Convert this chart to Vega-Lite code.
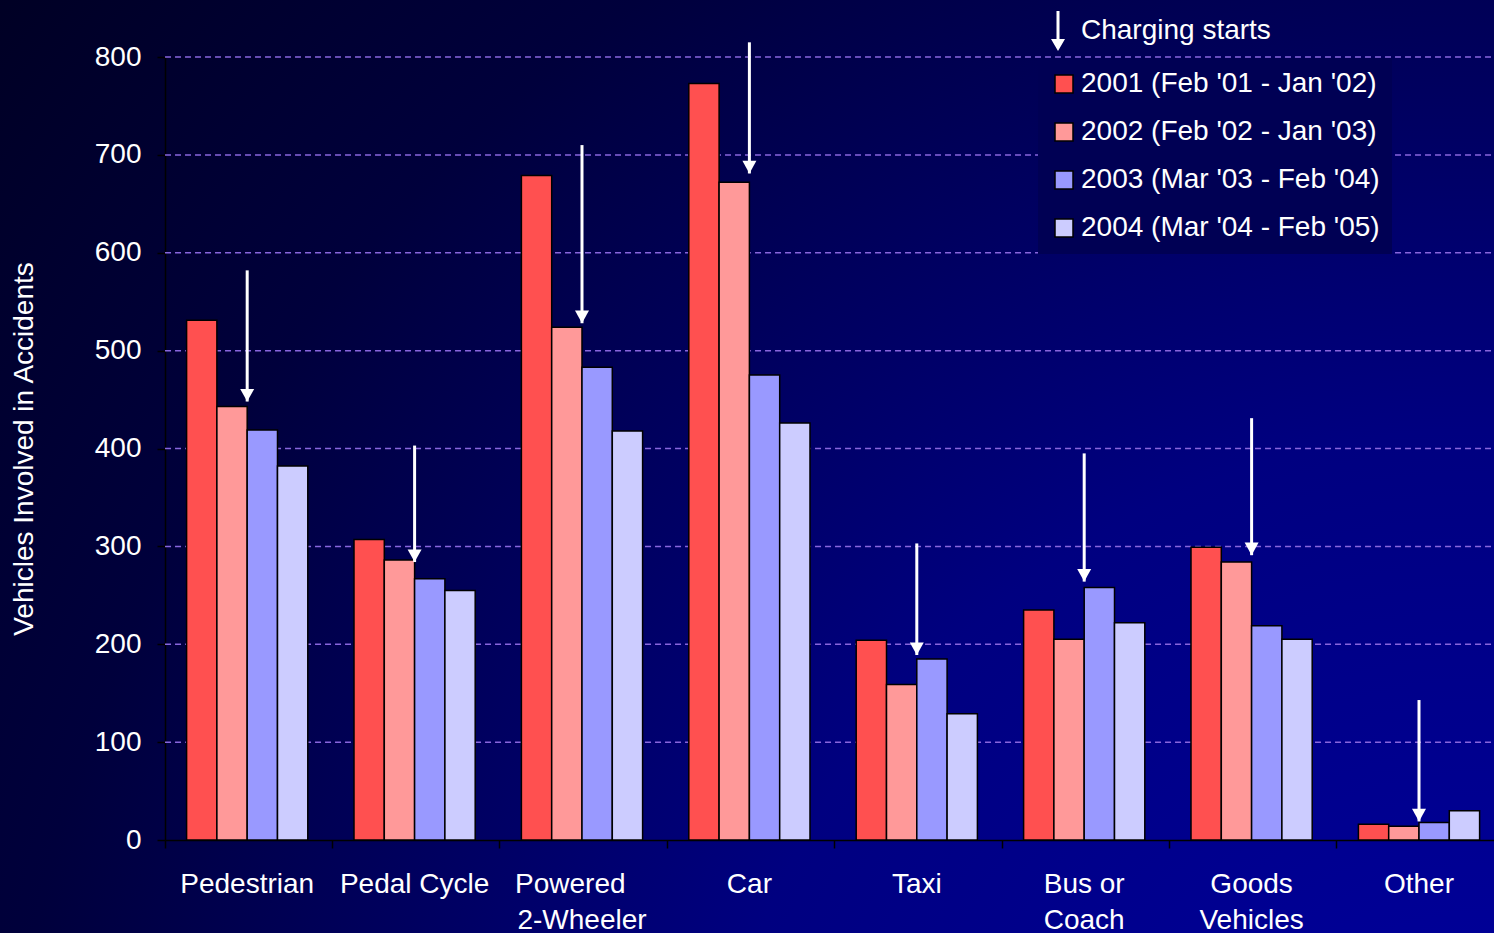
{
  "$schema": "https://vega.github.io/schema/vega-lite/v6.json",
  "width": 1494,
  "height": 933,
  "autosize": {"type": "none"},
  "padding": 0,
  "background": "#00001e",
  "config": {
    "font": "Liberation Sans",
    "view": {
      "stroke": null,
      "fill": {
        "gradient": "radial",
        "x1": 1, "y1": 1, "r1": 0,
        "x2": 1, "y2": 1, "r2": 1.42,
        "stops": [
          {"offset": 0, "color": "#0000a2"},
          {"offset": 0.37, "color": "#000080"},
          {"offset": 0.7, "color": "#00003c"},
          {"offset": 1, "color": "#00001a"}
        ]
      }
    },
    "axis": {
      "labelFont": "Liberation Sans",
      "labelFontSize": 28,
      "labelColor": "white",
      "domainColor": "black",
      "domainWidth": 1.5,
      "tickColor": "black",
      "tickSize": 8,
      "tickWidth": 1.5,
      "titleFont": "Liberation Sans",
      "titleFontSize": 28,
      "titleFontWeight": "normal",
      "titleColor": "white",
      "grid": false
    },
    "axisX": {
      "offset": -93,
      "labelAngle": 0,
      "bandPosition": -0.178,
      "labelPadding": 22,
      "labelLineHeight": 36,
      "labelOverlap": false,
      "labelExpr": "split(datum.label, '|')"
    },
    "axisY": {
      "offset": -165,
      "labelPadding": 16,
      "titlePadding": 56
    },
    "legend": {
      "labelFont": "Liberation Sans",
      "labelFontSize": 28,
      "labelColor": "white",
      "labelLimit": 600
    }
  },
  "datasets": {
    "bars": [
      {"category": "Pedestrian", "year": "2001 (Feb '01 - Jan '02)", "value": 531},
      {"category": "Pedestrian", "year": "2002 (Feb '02 - Jan '03)", "value": 443},
      {"category": "Pedestrian", "year": "2003 (Mar '03 - Feb '04)", "value": 419},
      {"category": "Pedestrian", "year": "2004 (Mar '04 - Feb '05)", "value": 382},
      {"category": "Pedal Cycle", "year": "2001 (Feb '01 - Jan '02)", "value": 307},
      {"category": "Pedal Cycle", "year": "2002 (Feb '02 - Jan '03)", "value": 286},
      {"category": "Pedal Cycle", "year": "2003 (Mar '03 - Feb '04)", "value": 267},
      {"category": "Pedal Cycle", "year": "2004 (Mar '04 - Feb '05)", "value": 255},
      {"category": "Powered\u00a0\u00a0\u00a0\u200b|2-Wheeler", "year": "2001 (Feb '01 - Jan '02)", "value": 679},
      {"category": "Powered\u00a0\u00a0\u00a0\u200b|2-Wheeler", "year": "2002 (Feb '02 - Jan '03)", "value": 524},
      {"category": "Powered\u00a0\u00a0\u00a0\u200b|2-Wheeler", "year": "2003 (Mar '03 - Feb '04)", "value": 483},
      {"category": "Powered\u00a0\u00a0\u00a0\u200b|2-Wheeler", "year": "2004 (Mar '04 - Feb '05)", "value": 418},
      {"category": "Car", "year": "2001 (Feb '01 - Jan '02)", "value": 773},
      {"category": "Car", "year": "2002 (Feb '02 - Jan '03)", "value": 672},
      {"category": "Car", "year": "2003 (Mar '03 - Feb '04)", "value": 475},
      {"category": "Car", "year": "2004 (Mar '04 - Feb '05)", "value": 426},
      {"category": "Taxi", "year": "2001 (Feb '01 - Jan '02)", "value": 204},
      {"category": "Taxi", "year": "2002 (Feb '02 - Jan '03)", "value": 159},
      {"category": "Taxi", "year": "2003 (Mar '03 - Feb '04)", "value": 185},
      {"category": "Taxi", "year": "2004 (Mar '04 - Feb '05)", "value": 129},
      {"category": "Bus or|Coach", "year": "2001 (Feb '01 - Jan '02)", "value": 235},
      {"category": "Bus or|Coach", "year": "2002 (Feb '02 - Jan '03)", "value": 205},
      {"category": "Bus or|Coach", "year": "2003 (Mar '03 - Feb '04)", "value": 258},
      {"category": "Bus or|Coach", "year": "2004 (Mar '04 - Feb '05)", "value": 222},
      {"category": "Goods|Vehicles", "year": "2001 (Feb '01 - Jan '02)", "value": 299},
      {"category": "Goods|Vehicles", "year": "2002 (Feb '02 - Jan '03)", "value": 284},
      {"category": "Goods|Vehicles", "year": "2003 (Mar '03 - Feb '04)", "value": 219},
      {"category": "Goods|Vehicles", "year": "2004 (Mar '04 - Feb '05)", "value": 205},
      {"category": "Other", "year": "2001 (Feb '01 - Jan '02)", "value": 16},
      {"category": "Other", "year": "2002 (Feb '02 - Jan '03)", "value": 14},
      {"category": "Other", "year": "2003 (Mar '03 - Feb '04)", "value": 18},
      {"category": "Other", "year": "2004 (Mar '04 - Feb '05)", "value": 30}
    ],
    "arrows": [
      {"category": "Pedestrian", "top": 582, "tip": 448, "marker": "Charging starts"},
      {"category": "Pedal Cycle", "top": 403, "tip": 284, "marker": "Charging starts"},
      {"category": "Powered\u00a0\u00a0\u00a0\u200b|2-Wheeler", "top": 710, "tip": 528, "marker": "Charging starts"},
      {"category": "Car", "top": 815, "tip": 681, "marker": "Charging starts"},
      {"category": "Taxi", "top": 303, "tip": 189, "marker": "Charging starts"},
      {"category": "Bus or|Coach", "top": 395, "tip": 264, "marker": "Charging starts"},
      {"category": "Goods|Vehicles", "top": 431, "tip": 291, "marker": "Charging starts"},
      {"category": "Other", "top": 143, "tip": 19, "marker": "Charging starts"}
    ],
    "gridlines": [
      {"v": 100}, {"v": 200}, {"v": 300}, {"v": 400},
      {"v": 500}, {"v": 600}, {"v": 700}, {"v": 800}
    ]
  },
  "layer": [
    {
      "data": {"name": "gridlines"},
      "mark": {"type": "rule", "color": "#8866dd", "strokeWidth": 1.5, "strokeDash": [6, 4]},
      "encoding": {
        "x": {"datum": "Pedestrian", "type": "nominal", "bandPosition": -0.178, "title": null},
        "x2": {"datum": "Other", "bandPosition": 1.125},
        "y": {"field": "v", "type": "quantitative", "title": "Vehicles Involved in Accidents"}
      }
    },
    {
      "data": {"name": "bars"},
      "mark": {"type": "bar", "stroke": "black", "strokeWidth": 1.5},
      "encoding": {
        "x": {
          "field": "category",
          "type": "nominal",
          "title": null,
          "scale": {
            "domain": ["Pedestrian", "Pedal Cycle", "Powered\u00a0\u00a0\u00a0\u200b|2-Wheeler", "Car", "Taxi", "Bus or|Coach", "Goods|Vehicles", "Other"],
            "range": [165, 1494],
            "paddingInner": 0.276,
            "paddingOuter": 0.1075,
            "align": 0.6
          }
        },
        "xOffset": {
          "field": "year",
          "type": "nominal",
          "scale": {"paddingInner": 0, "paddingOuter": 0}
        },
        "y": {
          "field": "value",
          "type": "quantitative",
          "title": "Vehicles Involved in Accidents",
          "scale": {"domain": [0, 800], "nice": false, "range": [840, 57]},
          "axis": {"values": [0, 100, 200, 300, 400, 500, 600, 700, 800]}
        },
        "color": {
          "field": "year",
          "type": "nominal",
          "scale": {
            "domain": ["2001 (Feb '01 - Jan '02)", "2002 (Feb '02 - Jan '03)", "2003 (Mar '03 - Feb '04)", "2004 (Mar '04 - Feb '05)"],
            "range": ["#ff5050", "#ff9999", "#9999ff", "#ccccff"]
          },
          "legend": {
            "orient": "none",
            "legendX": 1038,
            "legendY": 58,
            "title": null,
            "fillColor": "#000054",
            "padding": 12,
            "symbolType": "square",
            "symbolSize": 324,
            "symbolStrokeColor": "black",
            "symbolStrokeWidth": 1.5,
            "symbolOpacity": 1,
            "labelOffset": 3,
            "rowPadding": 20
          }
        }
      }
    },
    {
      "data": {"name": "arrows"},
      "mark": {"type": "rule", "color": "white", "strokeWidth": 3},
      "encoding": {
        "x": {"field": "category", "type": "nominal", "title": null},
        "y": {"field": "top", "type": "quantitative", "title": "Vehicles Involved in Accidents"},
        "y2": {"field": "tip"}
      }
    },
    {
      "data": {"name": "arrows"},
      "mark": {"type": "point", "filled": true, "color": "white", "size": 196, "opacity": 1, "strokeWidth": 0, "shape": "M-1,-1.8L1,-1.8L0,0Z"},
      "encoding": {
        "x": {"field": "category", "type": "nominal", "title": null},
        "y": {"field": "tip", "type": "quantitative", "title": "Vehicles Involved in Accidents"}
      }
    },
    {
      "data": {"name": "arrows"},
      "transform": [{"filter": "false"}],
      "mark": {"type": "point", "filled": true, "color": "white", "size": 400, "opacity": 1, "strokeWidth": 0},
      "encoding": {
        "x": {"field": "category", "type": "nominal", "title": null},
        "y": {"field": "tip", "type": "quantitative", "title": "Vehicles Involved in Accidents"},
        "shape": {
          "field": "marker",
          "type": "nominal",
          "scale": {"domain": ["Charging starts"], "range": ["M-0.15,-2L0.15,-2L0.15,0.8L0.7,0.8L0,2L-0.7,0.8L-0.15,0.8Z"]},
          "legend": {
            "orient": "none",
            "legendX": 1044,
            "legendY": 17,
            "title": null,
            "padding": 0,
            "symbolSize": 400,
            "labelOffset": 9,
            "symbolFillColor": "white",
            "symbolStrokeWidth": 0,
            "symbolOpacity": 1
          }
        }
      }
    }
  ]
}
